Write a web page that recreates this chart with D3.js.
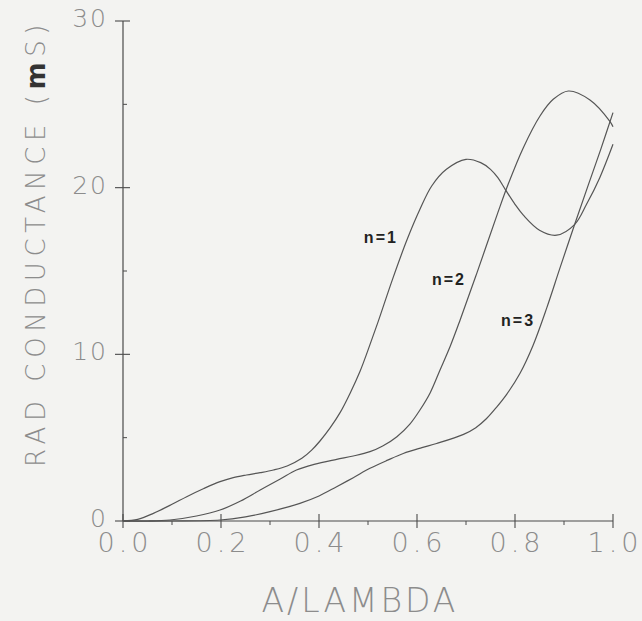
<!DOCTYPE html>
<html>
<head>
<meta charset="utf-8">
<script src="https://cdn.jsdelivr.net/npm/d3@7"></script>
<style>
  html, body { margin: 0; padding: 0; background: #f3f3f1; }
  svg { display: block; }
</style>
</head>
<body>
<script>
// values (A/LAMBDA vs RAD CONDUCTANCE in mS)
var n1x = [0, 0.03, 0.062, 0.10, 0.13, 0.165, 0.198, 0.225, 0.252, 0.28, 0.307, 0.335, 0.365, 0.385, 0.402, 0.423, 0.443, 0.464, 0.484, 0.50, 0.52, 0.55, 0.58, 0.606, 0.63, 0.66, 0.70, 0.73, 0.75, 0.765, 0.78, 0.80, 0.817, 0.85, 0.885, 0.922, 0.946, 0.973, 1.0];
var n1y = [0, 0.1, 0.46, 1.0, 1.46, 1.95, 2.36, 2.6, 2.76, 2.9, 3.06, 3.3, 3.76, 4.25, 4.8, 5.6, 6.5, 7.7, 9.0, 10.25, 11.9, 14.5, 16.9, 18.7, 20.1, 21.1, 21.7, 21.5, 21.1, 20.6, 19.9, 19.0, 18.35, 17.45, 17.15, 17.8, 19.0, 20.6, 22.6];

var n2x = [0, 0.05, 0.096, 0.15, 0.198, 0.24, 0.28, 0.32, 0.354, 0.39, 0.436, 0.47, 0.504, 0.53, 0.559, 0.585, 0.606, 0.627, 0.647, 0.668, 0.688, 0.722, 0.765, 0.786, 0.817, 0.851, 0.878, 0.909, 0.953, 0.994, 1.0];
var n2y = [0, 0, 0.06, 0.3, 0.66, 1.2, 1.86, 2.5, 3.06, 3.4, 3.7, 3.9, 4.16, 4.5, 5.06, 5.8, 6.66, 7.7, 9.06, 10.5, 12.06, 14.86, 18.5, 20.2, 22.4, 24.3, 25.3, 25.8, 25.26, 23.96, 23.65];

var n3x = [0, 0.1, 0.198, 0.25, 0.3, 0.361, 0.40, 0.436, 0.47, 0.504, 0.54, 0.572, 0.61, 0.64, 0.695, 0.72, 0.742, 0.763, 0.783, 0.81, 0.837, 0.865, 0.892, 0.922, 0.95, 0.975, 1.0];
var n3y = [0, 0, 0.06, 0.25, 0.56, 1.06, 1.5, 2.06, 2.6, 3.16, 3.65, 4.05, 4.4, 4.65, 5.2, 5.6, 6.15, 6.85, 7.6, 8.85, 10.55, 12.8, 15.2, 17.82, 20.2, 22.3, 24.5];

var seriesNames = ["n=1", "n=2", "n=3"];
var labelX = [0.561, 0.700, 0.841];
var labelY = [16.68, 14.16, 11.7];

var xTicks = [0, 0.2, 0.4, 0.6, 0.8, 1.0];
var xMinor = [0.1, 0.3, 0.5, 0.7, 0.9];
var yTicks = [0, 10, 20, 30];
var yMinor = [5, 15, 25];

var xTitle = "A/LAMBDA";

var width = 642, height = 621;

var svg = d3.select("body").append("svg")
  .attr("width", width)
  .attr("height", height);

var x = d3.scaleLinear().domain([0, 1]).range([123, 613]);
var y = d3.scaleLinear().domain([0, 30]).range([521, 21]);

var ink = "#4a4a4a";
var light = "#8c8c8c";

// axes (plotter style: major ticks cross the axis, minor ones only on one side)
var xAxis = svg.append("g").attr("transform", "translate(0," + y(0) + ")");
xAxis.append("line").attr("x1", x(0)).attr("x2", x(1)).attr("stroke", ink).attr("stroke-width", 1.2);
xAxis.selectAll(".maj").data(xTicks).enter().append("line")
  .attr("x1", function(d){return x(d);}).attr("x2", function(d){return x(d);})
  .attr("y1", -7).attr("y2", 7).attr("stroke", ink).attr("stroke-width", 1.1);
xAxis.selectAll(".min").data(xMinor).enter().append("line")
  .attr("x1", function(d){return x(d);}).attr("x2", function(d){return x(d);})
  .attr("y1", 0).attr("y2", 4).attr("stroke", ink).attr("stroke-width", 1);
xAxis.selectAll("text").data(xTicks).enter().append("text")
  .attr("x", function(d){return x(d) + 2;})
  .attr("y", 31)
  .attr("text-anchor", "middle")
  .attr("font-family", "DejaVu Sans")
  .attr("font-weight", 200)
  .attr("font-size", 27)
  .attr("letter-spacing", 4)
  .attr("fill", light)
  .text(function(d){return d.toFixed(1);});

var yAxis = svg.append("g").attr("transform", "translate(" + x(0) + ",0)");
yAxis.append("line").attr("y1", y(0)).attr("y2", y(30)).attr("stroke", ink).attr("stroke-width", 1.2);
yAxis.selectAll(".maj").data(yTicks).enter().append("line")
  .attr("y1", function(d){return y(d);}).attr("y2", function(d){return y(d);})
  .attr("x1", -8).attr("x2", 7).attr("stroke", ink).attr("stroke-width", 1.1);
yAxis.selectAll(".min").data(yMinor).enter().append("line")
  .attr("y1", function(d){return y(d);}).attr("y2", function(d){return y(d);})
  .attr("x1", 0).attr("x2", 4).attr("stroke", ink).attr("stroke-width", 1);
yAxis.selectAll("text").data(yTicks).enter().append("text")
  .attr("x", -15)
  .attr("y", function(d){return y(d) + 6;})
  .attr("text-anchor", "end")
  .attr("font-family", "DejaVu Sans")
  .attr("font-weight", 200)
  .attr("font-size", 25)
  .attr("letter-spacing", 2)
  .attr("fill", light)
  .text(function(d){return d;});

// titles
svg.append("text")
  .attr("x", 360).attr("y", 612)
  .attr("text-anchor", "middle")
  .attr("font-family", "DejaVu Sans")
  .attr("font-weight", 200)
  .attr("font-size", 33)
  .attr("letter-spacing", 3)
  .attr("fill", light)
  .text(xTitle);

var yt = svg.append("text")
  .attr("transform", "translate(45,243) rotate(-90)")
  .attr("text-anchor", "middle")
  .attr("font-family", "DejaVu Sans")
  .attr("font-weight", 200)
  .attr("font-size", 26)
  .attr("letter-spacing", 5.6)
  .attr("fill", light);
yt.append("tspan").text("RAD CONDUCTANCE (");
yt.append("tspan").attr("font-weight", 700).attr("fill", "#333").text("m");
yt.append("tspan").text("S)");

// curves
var line = d3.line()
  .x(function(d){return x(d[0]);})
  .y(function(d){return y(d[1]);})
  .curve(d3.curveCatmullRom.alpha(0.5));

[[n1x, n1y], [n2x, n2y], [n3x, n3y]].map(function(s){
  var pts = s[0].map(function(v, i){return [v, s[1][i]];});
  svg.append("path")
    .attr("d", line(pts))
    .attr("fill", "none")
    .attr("stroke", "#555")
    .attr("stroke-width", 1.2);
});

// curve labels
seriesNames.map(function(name, i){
  svg.append("text")
    .attr("x", x(labelX[i]))
    .attr("y", y(labelY[i]))
    .attr("text-anchor", "end")
    .attr("font-family", "Liberation Sans")
    .attr("font-weight", 700)
    .attr("font-size", 16)
    .attr("letter-spacing", 2)
    .attr("fill", "#222")
    .text(name);
});
</script>
</body>
</html>
